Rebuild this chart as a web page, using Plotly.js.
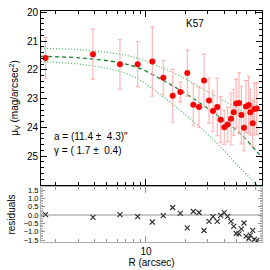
<!DOCTYPE html>
<html><head><meta charset="utf-8">
<script src="https://cdn.plot.ly/plotly-3.0.1.min.js"></script>
<style>html,body{margin:0;padding:0;background:#fff}#plot{width:270px;height:270px}</style>
</head><body><div id="plot"></div>
<script>
// Surface brightness profile data
const radius = [1.68, 3.90, 6.30, 8.63, 11.19, 13.60, 16.07, 18.40, 20.83, 23.18, 25.64, 28.03, 30.63, 32.88, 35.48, 37.68, 40.17, 42.66, 45.27, 47.5, 49.7, 52.2, 54.4, 57.0, 59.1, 62.0, 63.8, 66.6, 68.5, 71.5];
const muV = [21.58, 21.45, 21.80, 21.80, 21.71, 22.27, 22.90, 22.77, 22.11, 23.21, 23.29, 22.37, 23.06, 23.43, 23.29, 23.73, 23.99, 23.90, 23.70, 23.47, 23.17, 23.15, 23.57, 24.01, 23.27, 23.22, 23.47, 23.85, 23.36, 23.34];
const muErr = [0.71, 0.87, 0.86, 0.79, 1.2, 0.6, 0.92, 0.35, 0.8, 0.73, 0.7, 0.92, 0.78, 0.7, 1.0, 0.8, 0.6, 0.6, 0.9, 0.8, 0.85, 1.05, 1.0, 0.8, 0.9, 1.0, 0.8, 0.8, 0.9, 0.9];
const residuals = [0.02, -0.14, 0.02, -0.10, -0.42, -0.04, 0.45, 0.10, -0.77, 0.21, 0.15, -0.93, -0.38, -0.10, -0.38, -0.02, 0.14, -0.08, -0.38, -0.68, -1.11, -1.13, -0.83, -0.48, -1.27, -1.41, -1.21, -0.92, -1.47, -1.53];

// Model curves (best fit and confidence envelope)
const modelR = [1.55, 3.10, 6.30, 8.99, 12.82, 18.30, 26.1, 37.2, 53.1, 71.9, 78.5];
const modelMu = [21.53, 21.58, 21.75, 21.95, 22.30, 22.70, 23.15, 23.65, 24.20, 24.85, 25.05];
const upperMu = [21.24, 21.30, 21.45, 21.62, 21.90, 22.20, 22.60, 23.00, 23.40, 23.75, 23.85];
const lowerR = [1.55, 3.10, 6.30, 8.99, 12.82, 18.30, 26.1, 37.2, 53.1, 71.9];
const lowerMu = [21.71, 21.80, 22.05, 22.35, 22.85, 23.40, 24.00, 24.65, 25.40, 26.00];

const xTickVals = [2, 3, 4, 5, 6, 7, 8, 9, 20, 30, 40, 50, 60, 70];
const yTickVals = [20, 21, 22, 23, 24, 25];
const resTickVals = [-1.5, -1.0, -0.5, 0.0, 0.5, 1.0, 1.5];
const resTickText = ['\u22121.5', '\u22121.0', '\u22120.5', '0.0', '0.5', '1.0', '1.5'];

const FONT = 'Liberation Sans Narrow, Liberation Sans, Arial, sans-serif';

const traces = [
  {x: modelR, y: upperMu, xaxis: 'x', yaxis: 'y', mode: 'lines', line: {color: '#3cb85a', width: 1.2, dash: '1px,2px', shape: 'spline'}, hoverinfo: 'skip'},
  {x: lowerR, y: lowerMu, xaxis: 'x', yaxis: 'y', mode: 'lines', line: {color: '#3cb85a', width: 1.2, dash: '1px,2px', shape: 'spline'}, hoverinfo: 'skip'},
  {x: modelR, y: modelMu, xaxis: 'x', yaxis: 'y', mode: 'lines', line: {color: '#23873a', width: 1.4, dash: '4px,3px', shape: 'spline'}, hoverinfo: 'skip'},
  {x: radius, y: muV, xaxis: 'x', yaxis: 'y', mode: 'markers',
   marker: {color: '#ff0000', size: 6, symbol: 'circle'},
   error_y: {type: 'data', array: muErr, visible: true, color: '#ffb0b0', thickness: 1.1, width: 2}},
  {x: radius, y: residuals, xaxis: 'x2', yaxis: 'y2', mode: 'markers',
   marker: {symbol: 'x-thin-open', size: 5, line: {color: '#333333', width: 1.2}, color: '#333333'}}
];

const layout = {
  width: 270, height: 270,
  margin: {l: 41, r: 8, t: 11, b: 28},
  paper_bgcolor: '#ffffff', plot_bgcolor: '#ffffff',
  showlegend: false,
  font: {family: FONT, size: 10, color: '#000'},
  xaxis: {
    type: 'log', range: [Math.log10(1.55), Math.log10(78.5)], domain: [0, 1], anchor: 'y',
    showline: true, linecolor: '#000', linewidth: 1, mirror: 'allticks',
    ticks: 'inside', tickvals: [10], ticklen: 6, tickcolor: '#000',
    minor: {tickvals: xTickVals, ticks: 'inside', ticklen: 3, tickcolor: '#000'},
    showticklabels: false, showgrid: false, zeroline: false
  },
  yaxis: {
    range: [26, 19.95], domain: [0.2468, 1], anchor: 'x',
    showline: true, linecolor: '#000', linewidth: 1, mirror: 'allticks',
    ticks: 'inside', tickvals: yTickVals, ticklen: 6, tickcolor: '#000',
    minor: {dtick: 0.2, ticks: 'inside', ticklen: 3, tickcolor: '#000'},
    showgrid: false, zeroline: false, tickfont: {size: 10},
    title: {text: '\u03bc<sub>V</sub> (mag/arcsec<sup>2</sup>)', font: {size: 10}, standoff: 6}
  },
  xaxis2: {
    type: 'log', range: [Math.log10(1.55), Math.log10(78.5)], domain: [0, 1], anchor: 'y2',
    showline: true, linecolor: '#b0b0b0', linewidth: 1, mirror: 'allticks',
    ticks: 'inside', tickvals: [10], ticktext: ['10'], ticklen: 6, tickcolor: '#999',
    minor: {tickvals: xTickVals, ticks: 'inside', ticklen: 3, tickcolor: '#999'},
    showgrid: false, zeroline: false, tickfont: {size: 10},
    title: {text: 'R (arcsec)', font: {size: 10}, standoff: 2}
  },
  yaxis2: {
    range: [-1.62, 1.68], domain: [0, 0.238], anchor: 'x2',
    showline: true, linecolor: '#b0b0b0', linewidth: 1, mirror: 'allticks',
    ticks: 'inside', tickvals: resTickVals, ticktext: resTickText, ticklen: 4, tickcolor: '#999',
    minor: {dtick: 0.1, ticks: 'inside', ticklen: 2, tickcolor: '#aaa'},
    showgrid: false, zeroline: true, zerolinecolor: '#c8c8c8', zerolinewidth: 2,
    tickfont: {size: 7.5},
    title: {text: 'residuals', font: {size: 10}, standoff: 6}
  },
  annotations: [
    {text: 'K57', xref: 'paper', yref: 'paper', x: 0.697, y: 0.944, showarrow: false, xanchor: 'center', yanchor: 'middle', font: {size: 10}},
    {text: 'a = (11.4 \u00b1  4.3)"', xref: 'paper', yref: 'paper', x: 0.05, y: 0.455, showarrow: false, xanchor: 'left', yanchor: 'middle', font: {size: 10}},
    {text: '\u03b3 = ( 1.7 \u00b1  0.4)', xref: 'paper', yref: 'paper', x: 0.05, y: 0.397, showarrow: false, xanchor: 'left', yanchor: 'middle', font: {size: 10}}
  ]
};

Plotly.newPlot('plot', traces, layout, {staticPlot: true, displayModeBar: false});
</script>
</body></html>
